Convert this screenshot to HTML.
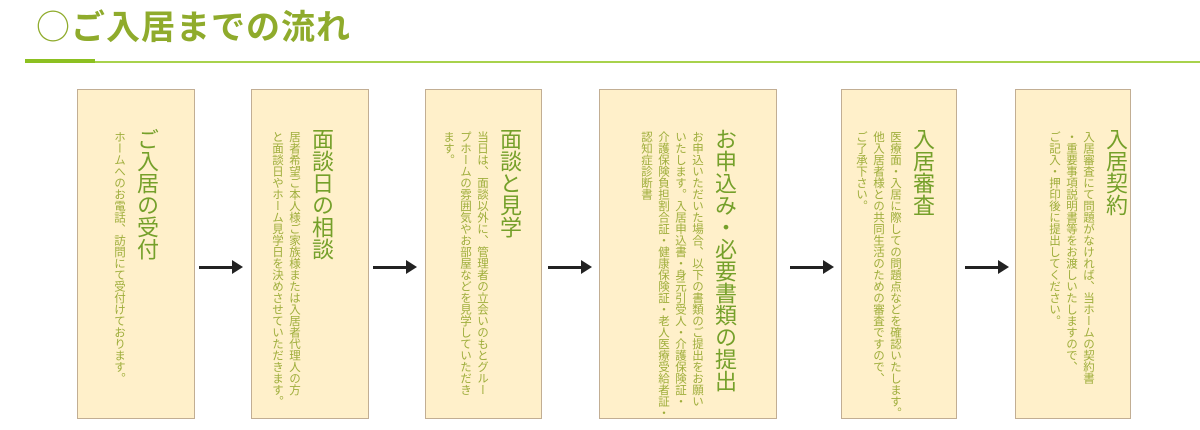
<!DOCTYPE html>
<html><head><meta charset="utf-8"><style>
body{margin:0;width:1200px;height:430px;background:#fff;position:relative;overflow:hidden;font-family:"Liberation Sans","Noto Sans CJK JP",sans-serif}
.t{position:absolute;left:36px;top:2px;font-size:34px;font-weight:bold;color:#8fab2c;letter-spacing:1px;font-family:"Noto Sans CJK JP",sans-serif;line-height:46px}
.t span{font-weight:normal}
.l1{position:absolute;left:25px;top:59px;width:70px;height:4px;background:#8cc021}
.l2{position:absolute;left:25px;top:61px;width:1175px;height:2px;background:#a8d24c}
.b{position:absolute;top:89px;height:330px;background:#fff0ca;border:1px solid #c2ae93;box-sizing:border-box}
.c{position:absolute;top:38px;writing-mode:vertical-rl;white-space:nowrap}
.c h{display:block;font-size:22px;line-height:30px;color:#75a02a;font-weight:normal;margin-left:4px}
.c p{margin:0;font-size:11.5px;line-height:17px;color:#9fae3c;padding-top:3px}
.a{position:absolute;top:266px;width:34px;height:3px;background:#222}
.a:after{content:"";position:absolute;right:-10px;top:-6px;border-left:11px solid #222;border-top:7px solid transparent;border-bottom:7px solid transparent}
</style></head><body>
<div class="t"><span>○</span>ご入居までの流れ</div>
<div class="l2"></div><div class="l1"></div>

<div class="b" style="left:77px;width:118px"><div class="c" style="right:33px"><h>ご入居の受付</h><p>ホームへのお電話、訪問にて受付けております。</p></div></div>
<div class="a" style="left:199px"></div>

<div class="b" style="left:251px;width:118px"><div class="c" style="right:32px"><h>面談日の相談</h><p>居者希望ご本人様ご家族様または入居者代理人の方<br>と面談日やホーム見学日を決めさせていただきます。</p></div></div>
<div class="a" style="left:373px"></div>

<div class="b" style="left:425px;width:117px"><div class="c" style="right:17px"><h>面談と見学</h><p>当日は、面談以外に、管理者の立会いのもとグルー<br>プホームの雰囲気やお部屋などを見学していただき<br>ます。</p></div></div>
<div class="a" style="left:548px"></div>

<div class="b" style="left:599px;width:178px"><div class="c" style="right:37px"><h>お申込み・必要書類の提出</h><p>お申込いただいた場合、以下の書類のご提出をお願い<br>いたします。入居申込書・身元引受人・介護保険証・<br>介護保険負担割合証・健康保険証・老人医療受給者証・<br>認知症診断書</p></div></div>
<div class="a" style="left:790px"></div>

<div class="b" style="left:841px;width:116px"><div class="c" style="right:19px"><h>入居審査</h><p>医療面・入居に際しての問題点などを確認いたします。<br>他入居者様との共同生活のための審査ですので、<br>ご了承下さい。</p></div></div>
<div class="a" style="left:965px"></div>

<div class="b" style="left:1015px;width:116px"><div class="c" style="right:0px"><h>入居契約</h><p>入居審査にて問題がなければ、当ホームの契約書<br>・重要事項説明書等をお渡しいたしますので、<br>ご記入・押印後に提出してください。</p></div></div>
</body></html>
